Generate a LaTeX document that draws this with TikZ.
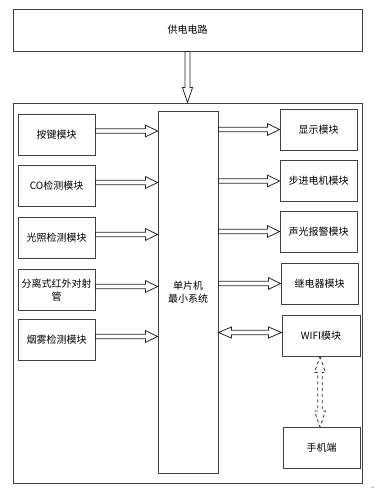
\documentclass[tikz,border=0pt]{standalone}
\usepackage{fontspec}
\setmainfont{Noto Sans CJK SC}
\newfontfamily\symfont{DejaVu Sans}
\usetikzlibrary{calc}
\begin{document}
\begin{tikzpicture}[x=1pt,y=-1pt,
  box/.style={draw=black!75,line width=0.9pt,minimum width=77pt,minimum height=41pt,inner sep=1pt,align=center,
    font=\fontsize{10}{13}\selectfont},
  arr/.style={draw=black!85,line width=0.8pt,fill=white},
  hblk/.style={arr,to path={let \p1=(\tikztostart),\p2=(\tikztotarget) in
    (\x1,\y1+2.2pt) -- (\x2-12pt,\y1+2.2pt) -- (\x2-12pt,\y1+5.8pt) -- (\x2,\y1) -- (\x2-12pt,\y1-5.8pt) -- (\x2-12pt,\y1-2.2pt) -- (\x1,\y1-2.2pt) -- cycle}},
  hblkr/.style={arr,to path={let \p1=(\tikztostart),\p2=(\tikztotarget) in
    (\x1,\y2+2.2pt) -- (\x2-12pt,\y2+2.2pt) -- (\x2-12pt,\y2+5.8pt) -- (\x2,\y2) -- (\x2-12pt,\y2-5.8pt) -- (\x2-12pt,\y2-2.2pt) -- (\x1,\y2-2.2pt) -- cycle}},
  hdbl/.style={arr,to path={let \p1=(\tikztostart),\p2=(\tikztotarget),\n1={\y2+3pt} in
    (\x1,\n1) -- (\x1+13pt,\n1+5.5pt) -- (\x1+13pt,\n1+2.2pt) -- (\x2-13pt,\n1+2.2pt) -- (\x2-13pt,\n1+5.5pt) -- (\x2,\n1) -- (\x2-13pt,\n1-5.5pt) -- (\x2-13pt,\n1-2.2pt) -- (\x1+13pt,\n1-2.2pt) -- (\x1+13pt,\n1-5.5pt) -- cycle}},
  vblk/.style={arr,to path={let \p1=(\tikztostart),\p2=(\tikztotarget) in
    (\x1-2.5pt,\y1) -- (\x1-2.5pt,\y2+15pt) -- (\x1-5pt,\y2+15pt) -- (\x1,\y2) -- (\x1+5pt,\y2+15pt) -- (\x1+2.5pt,\y2+15pt) -- (\x1+2.5pt,\y1) -- cycle}},
  vdbl/.style={arr,dashed,to path={let \p1=(\tikztostart),\p2=(\tikztotarget) in
    (\x1,\y1) -- (\x1+5.5pt,\y1-16pt) -- (\x1+2.2pt,\y1-16pt) -- (\x1+2.2pt,\y2+16pt) -- (\x1+5.5pt,\y2+16pt) -- (\x1,\y2) -- (\x1-5.5pt,\y2+16pt) -- (\x1-2.2pt,\y2+16pt) -- (\x1-2.2pt,\y1-16pt) -- (\x1-5.5pt,\y1-16pt) -- cycle}}
]
\useasboundingbox[fill=white] (0,0) rectangle (380,492);
% frames
\node[box,minimum width=349pt,minimum height=42pt] (pwr) at (187.5,30) {供电电路};
\node[draw=black!75,line width=0.9pt,minimum width=349pt,minimum height=380pt,inner sep=0pt] (outer) at (187.5,293) {};
% MCU
\node[box,minimum width=60pt,minimum height=362pt] (mcu) at (188,292) {单片机\\最小系统};
% left modules
\node[box] (l1) at (56.5,134.5) {按键模块};
\node[box] (l2) at (56.5,186) {CO检测模块};
\node[box] (l3) at (56.5,238) {光照检测模块};
\node[box] (l4) at (56.5,290) {分离式红外对射\\管};
\node[box] (l5) at (56.5,340) {烟雾检测模块};
% right modules
\node[box] (r1) at (318.5,129.5) {显示模块};
\node[box] (r2) at (318.5,181) {步进电机模块};
\node[box] (r3) at (318.5,231.5) {声光报警模块};
\node[box] (r4) at (319.5,283.5) {继电器模块};
\node[box,minimum width=78pt] (wifi) at (321,335.5) {WIFI模块};
\node[box] (phone) at (321.5,448) {手机端};
% power arrow
\draw[vblk] (pwr.south) to (outer.north);
% inputs
\foreach \k in {l1,l2,l3,l4,l5}
  \draw[hblk] ([yshift=3.5pt]\k.east) to (mcu.west);
% outputs
\foreach \k in {r1,r2,r3,r4}
  \draw[hblkr] (mcu.east) to (\k.west);
% wifi link
\draw[hdbl] (mcu.east) to (wifi.west);
\draw[vdbl] ([xshift=-1pt]wifi.south) to (phone.north);
% paragraph mark
\node[text=black!40,font=\symfont\fontsize{5}{5}\selectfont,inner sep=0pt] (pm) at (373,488) {↵};
\end{tikzpicture}
\end{document}
